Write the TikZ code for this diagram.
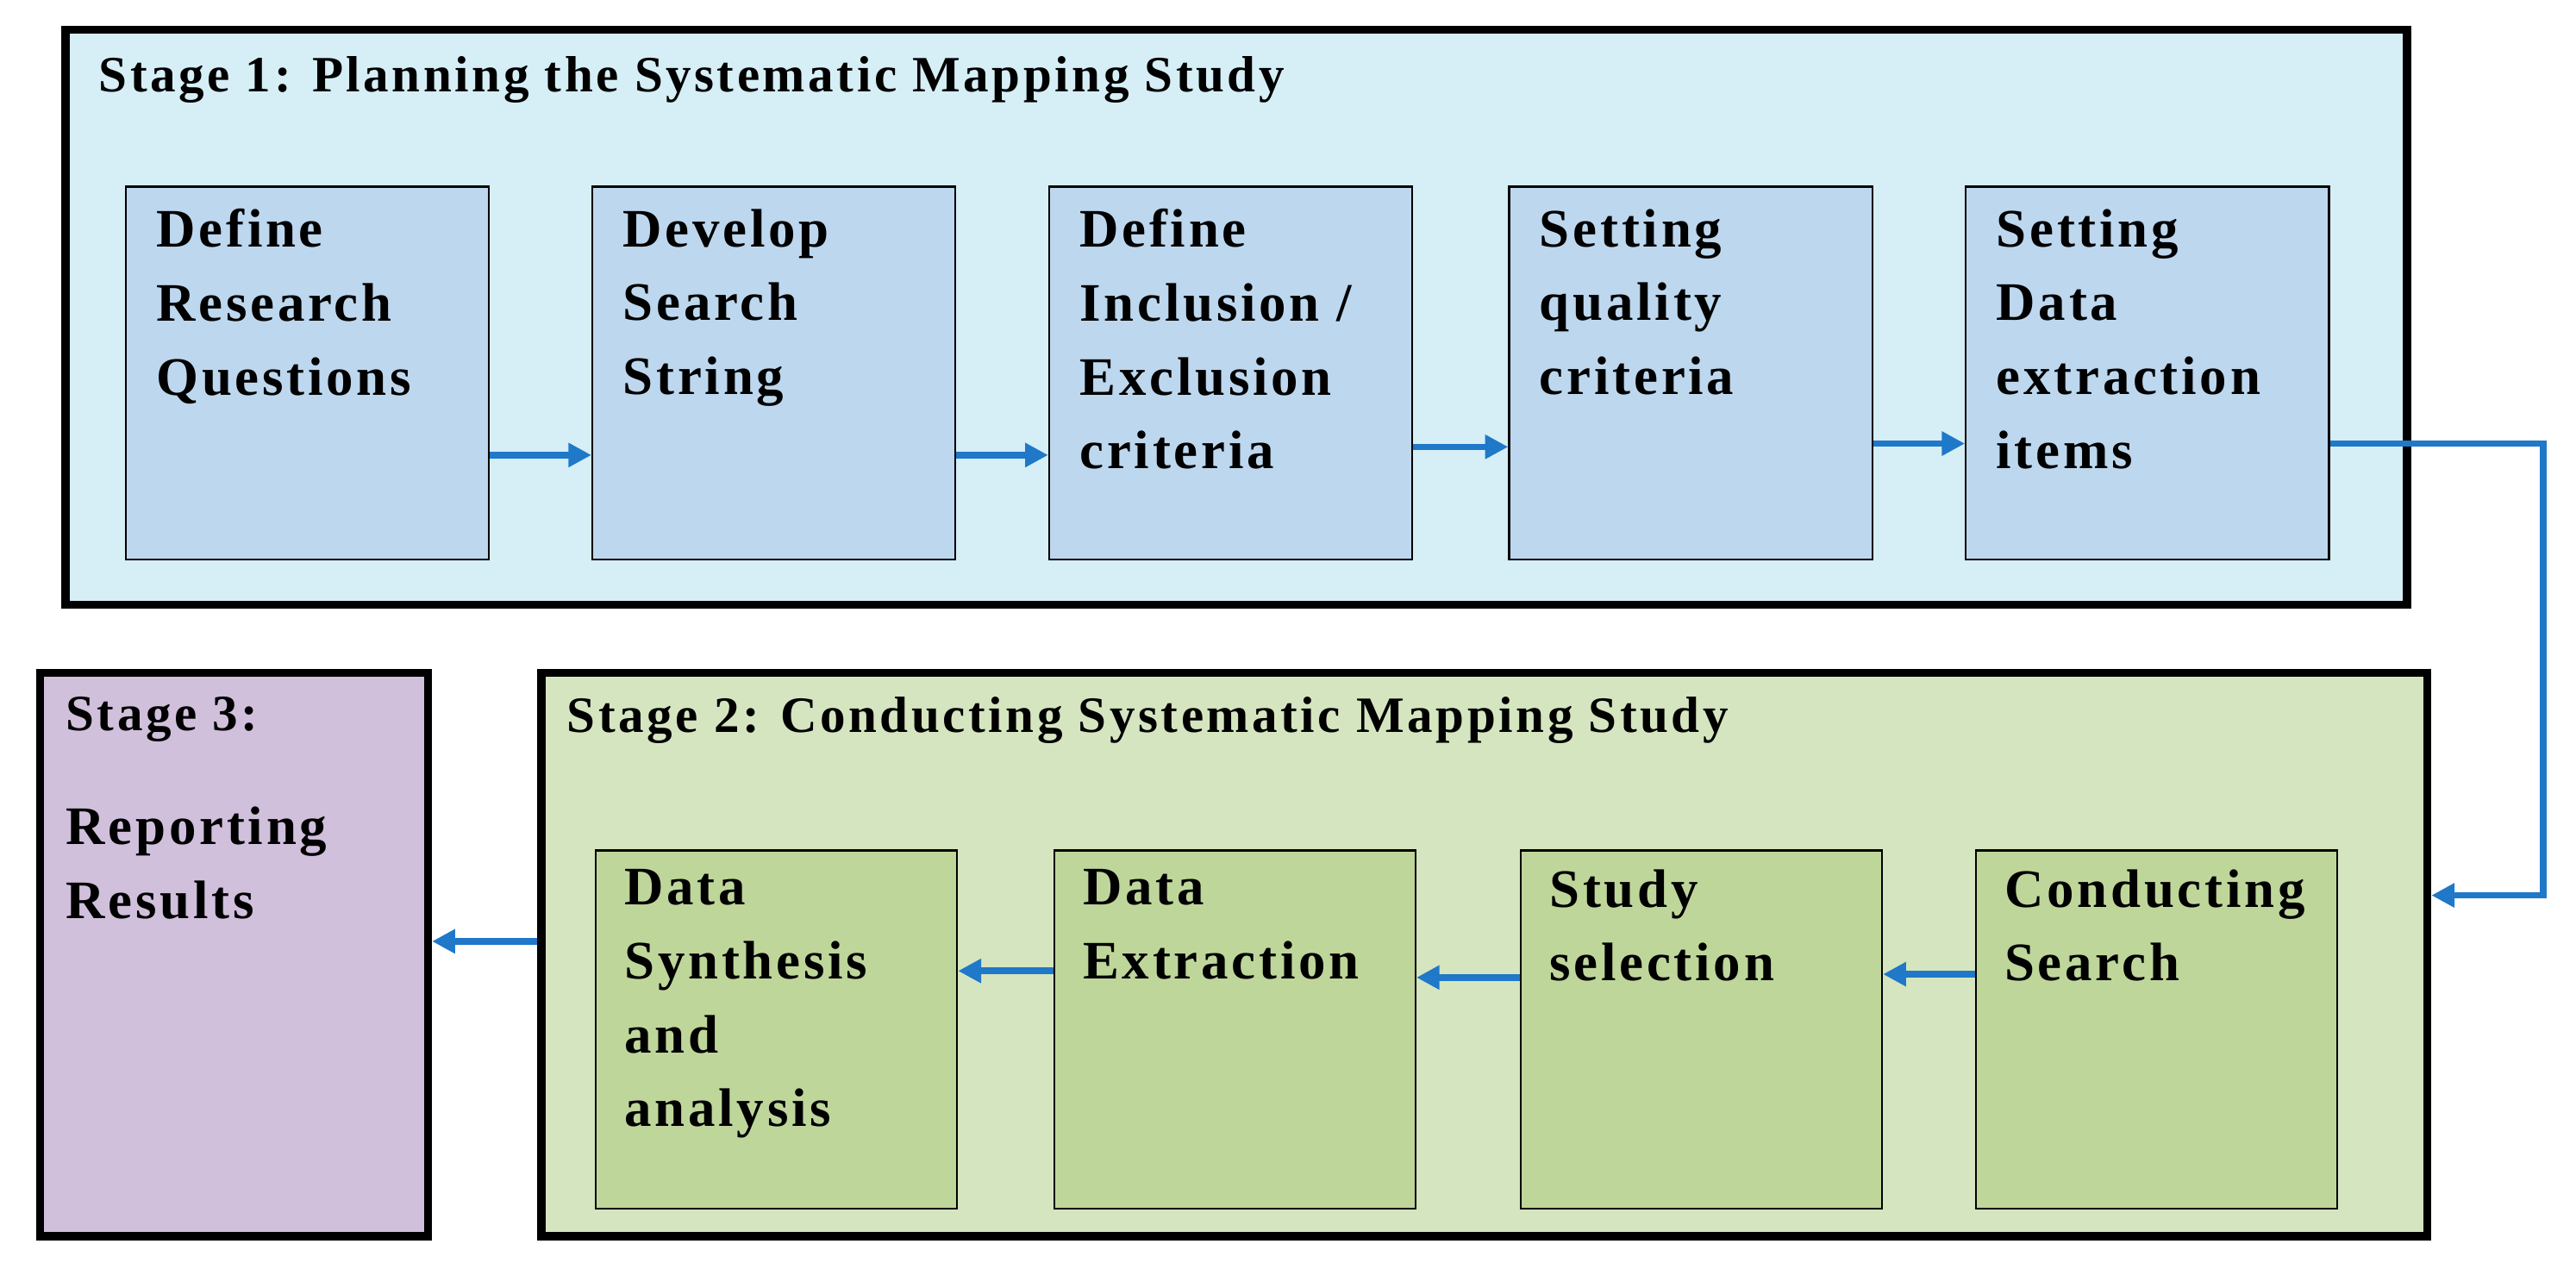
\documentclass[tikz,border=0pt]{standalone}
\usepackage{fontspec}
\setmainfont{Liberation Serif}[LetterSpace=6]
\usetikzlibrary{arrows.meta}
\definecolor{s1}{HTML}{D6EEF6}
\definecolor{b1}{HTML}{BDD7EE}
\definecolor{s2}{HTML}{D5E5C0}
\definecolor{b2}{HTML}{BFD69B}
\definecolor{s3}{HTML}{D0C0DC}
\definecolor{arr}{HTML}{1F78C8}
\begin{document}
\begin{tikzpicture}[x=1pt,y=-1pt,
 stage/.style={draw=black,line width=5pt},
 txt/.style={anchor=north west,align=left,font=\fontsize{33}{45}\selectfont\bfseries,inner sep=0pt},
 ttl/.style={anchor=north west,font=\fontsize{31}{34}\selectfont\bfseries,inner sep=0pt},
 ar/.style={draw=arr,line width=4pt,-{Triangle[length=14pt,width=14pt]}}]
\useasboundingbox (0,0) rectangle (1568,772);
% Stage 1
\draw[stage,fill=s1] (40,18) rectangle (1465,368);
\node[ttl] (t1) at (60,34) {Stage 1: Planning the Systematic Mapping Study};
\foreach \n/\x/\t in {a/76/{Define\\Research\\Questions},b/360/{Develop\\Search\\String},c/638/{Define\\Inclusion /\\Exclusion\\criteria},d/918/{Setting\\quality\\criteria},e/1196/{Setting\\Data\\extraction\\items}}{
 \node[draw=black,line width=1.2pt,fill=b1,minimum width=221pt,minimum height=227pt,anchor=north west,inner sep=0pt] (\n) at (\x,113) {};
 \node[txt] at (\x+19,127) {\t};
}
\draw[ar] (a.east|-0,277) -- (b.west|-0,277);
\draw[ar] (b.east|-0,277) -- (c.west|-0,277);
\draw[ar] (c.east|-0,272) -- (d.west|-0,272);
\draw[ar] (d.east|-0,270) -- (e.west|-0,270);
% Stage 2
\node[stage,fill=s2,minimum width=1148pt,minimum height=343pt,anchor=north west,inner sep=0pt] (S2) at (327,407) {};
\node[ttl] (t2) at (345,424) {Stage 2: Conducting Systematic Mapping Study};
\foreach \n/\x/\t in {f/362/{Data\\Synthesis\\and\\analysis},g/641/{Data\\Extraction},h/925/{Study\\selection},i/1202/{Conducting\\Search}}{
 \node[draw=black,line width=1.2pt,fill=b2,minimum width=220pt,minimum height=218pt,anchor=north west,inner sep=0pt] (\n) at (\x,517) {};
 \node[txt] at (\x+18,529) {\t};
}
\draw[ar] (i.west|-0,593) -- (h.east|-0,593);
\draw[ar] (h.west|-0,595) -- (g.east|-0,595);
\draw[ar] (g.west|-0,591) -- (f.east|-0,591);
% Stage 3
\node[stage,fill=s3,minimum width=236pt,minimum height=343pt,anchor=north west,inner sep=0pt] (S3) at (22,407) {};
\node[ttl] at (40,424) {Stage 3:};
\node[txt] at (40,491) {Reporting\\Results};
\draw[ar] (S2.west|-0,573) -- (S3.east|-0,573);
% connector 1 -> 2
\draw[ar] (e.east|-0,270) -- (1548,270) -- (1548,545) -- (S2.east|-0,545);
\end{tikzpicture}
\end{document}
